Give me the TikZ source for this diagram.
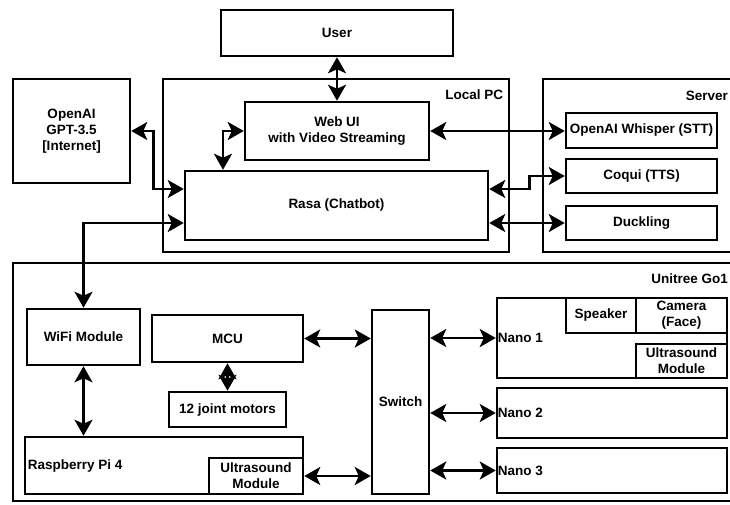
\documentclass[tikz,border=0pt]{standalone}
\usepackage{fontspec}
\setmainfont{Liberation Sans}
\usepackage{tikz}
\usetikzlibrary{positioning,arrows.meta}

\begin{document}
\begin{tikzpicture}
[
x=1pt, y=-1pt,
box-a/.style={rectangle, draw, line width=2.5pt, fill=white, inner sep=0pt, align=center,
              font=\bfseries\fontsize{13.5}{16}\selectfont},
box-b/.style={draw, line width=2.5pt},
text-a/.style={black, inner sep=1pt, align=left, font=\bfseries\fontsize{13.5}{16}\selectfont},
arrow-a/.style={line width=2.5pt,
                {Stealth[length=16pt,width=18pt,inset=4pt]}-{Stealth[length=16pt,width=18pt,inset=4pt]}}
]
\useasboundingbox (0,0) rectangle (730,504);

% containers
\node (local-pc)    [box-a, fill=none, minimum width=346, minimum height=173] at (336,165.5) {};
\node (local-pc-id) [text-a, below left = 11pt and 6pt of local-pc.north east] {Local PC};
\draw[box-b] (731,79) -| (543,252) -- (731,252);
\coordinate (server-ne) at (731,79);
\node (server-id)   [text-a, below left = 11pt and 2pt of server-ne] {Server};
\draw[box-b] (731,263) -| (13,501) -- (731,501);
\coordinate (unitree-ne) at (731,263);
\node (unitree-id)  [text-a, below left = 10pt and 2pt of unitree-ne] {Unitree Go1};

% upper part
\node (user)     [box-a, minimum width=232, minimum height=46]  at (337,33)     {User};
\node (openai)   [box-a, minimum width=117, minimum height=104] at (71.5,131)   {OpenAI\\GPT-3.5\\{[}Internet{]}};
\node (webui)    [box-a, minimum width=184, minimum height=58]  at (337,131)    {Web UI\\with Video Streaming};
\node (rasa)     [box-a, minimum width=303, minimum height=69]  at (336.5,205.5) {Rasa (Chatbot)};
\node (whisper)  [box-a, minimum width=151, minimum height=35]  at (641.5,130.5) {OpenAI Whisper (STT)};
\node (coqui)    [box-a, minimum width=151, minimum height=34]  at (641.5,176)  {Coqui (TTS)};
\node (duckling) [box-a, minimum width=151, minimum height=34]  at (641.5,223)  {Duckling};

% robot
\node (wifi)     [box-a, minimum width=113, minimum height=56]  at (83.5,337)   {WiFi Module};
\node (mcu)      [box-a, minimum width=151, minimum height=47]  at (227.5,338.5) {MCU};
\node (motors)   [box-a, minimum width=117, minimum height=35]  at (227.5,409.5) {12 joint motors};
\node (rpi)      [box-a, minimum width=278, minimum height=57]  at (164,465.5)  {};
\node (rpi-id)   [text-a, right = 3pt of rpi.west] {Raspberry Pi 4};
\node (us-pi)    [box-a, minimum width=94,  minimum height=36]  at (256,476)    {Ultrasound\\Module};
\node (switch)   [box-a, minimum width=57,  minimum height=184] at (400.5,402)  {Switch};
\node (nano-1)   [box-a, minimum width=230, minimum height=80]  at (612,338)    {};
\node (nano-1-id)[text-a, right = 1pt of nano-1.west] {Nano 1};
\node (speaker)  [box-a, minimum width=70,  minimum height=35]  at (601,315.5)  {Speaker};
\node (camera)   [box-a, minimum width=91,  minimum height=35]  at (681.5,315.5) {Camera\\(Face)};
\node (us-nano)  [box-a, minimum width=91,  minimum height=34]  at (681.5,361)  {Ultrasound\\Module};
\node (nano-2)   [box-a, minimum width=230, minimum height=50]  at (612,413)    {};
\node (nano-2-id)[text-a, right = 1pt of nano-2.west] {Nano 2};
\node (nano-3)   [box-a, minimum width=230, minimum height=45]  at (612,470.5)  {};
\node (nano-3-id)[text-a, right = 1pt of nano-3.west] {Nano 3};

% connectors
\draw[arrow-a] (user) -- (webui);
\draw[arrow-a] (webui.west) -| ([xshift=-113.5pt]rasa.north);
\draw[arrow-a] (openai.east) -- ++(22,0) |- ([yshift=16.5pt]rasa.west);
\draw[arrow-a] ([yshift=-17.5pt]rasa.west) -| (wifi.north);
\draw[arrow-a] (webui.east) -- (webui.east -| whisper.west);
\draw[arrow-a] ([yshift=16.5pt]rasa.east) -- ++(40,0) |- (coqui.west);
\draw[arrow-a] ([yshift=-17.5pt]rasa.east) -- (duckling.west);
\draw[arrow-a] (wifi.south) -- (wifi.south |- rpi.north);
\draw[arrow-a] (mcu) -- (motors);
\draw[arrow-a] (mcu.east) -- (mcu.east -| switch.west);
\draw[arrow-a] (us-pi.east) -- (us-pi.east -| switch.west);
\draw[arrow-a] (nano-1.west -| switch.east) -- (nano-1.west);
\draw[arrow-a] (nano-2.west -| switch.east) -- (nano-2.west);
\draw[arrow-a] (nano-3.west -| switch.east) -- (nano-3.west);
\end{tikzpicture}
\end{document}
